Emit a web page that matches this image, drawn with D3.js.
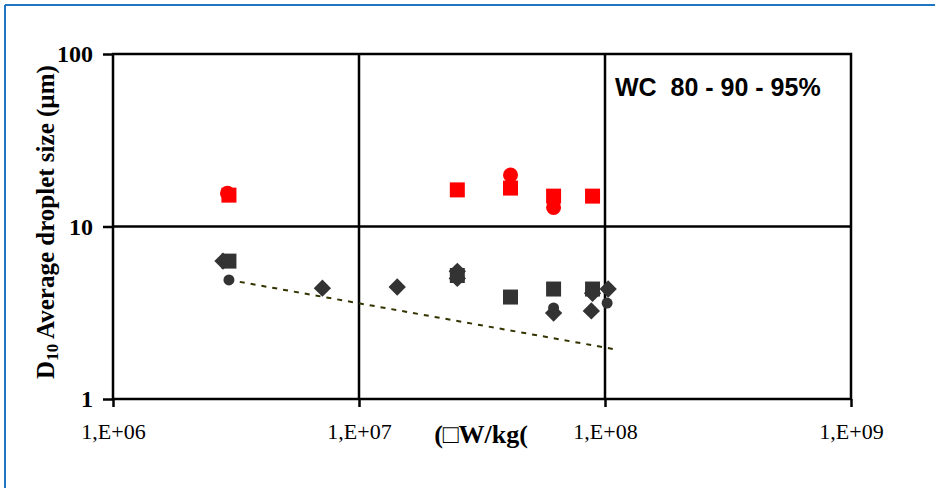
<!DOCTYPE html>
<html><head><meta charset="utf-8">
<script src="https://cdn.jsdelivr.net/npm/d3@7"></script>
<style>html,body{margin:0;padding:0;background:#fff;}</style>
</head><body>
<svg id="c" width="935" height="488"></svg>
<script>
// ---- data ----
const xTickValues = [1e6, 1e7, 1e8, 1e9];
const xTickLabels = ["1,E+06", "1,E+07", "1,E+08", "1,E+09"];
const yTickValues = [1, 10, 100];
const yTickLabels = ["1", "10", "100"];

const redSquareX = [2.96e6, 2.51e7, 4.13e7, 6.18e7, 8.9e7];
const redSquareY = [15.2, 16.3, 16.7, 15.0, 15.0];
const redCircleX = [2.92e6, 4.13e7, 6.18e7];
const redCircleY = [15.6, 19.9, 12.9];

const darkSquareX = [2.96e6, 2.51e7, 4.13e7, 6.18e7, 8.9e7];
const darkSquareY = [6.3, 5.2, 3.9, 4.34, 4.34];
const darkDiamondX = [2.8e6, 7.1e6, 1.43e7, 2.51e7, 2.51e7, 6.18e7, 8.8e7, 8.9e7, 1.03e8];
const darkDiamondY = [6.3, 4.39, 4.46, 5.5, 5.0, 3.15, 3.24, 4.1, 4.34];
const darkCircleX = [2.96e6, 6.18e7, 1.02e8];
const darkCircleY = [4.9, 3.37, 3.6];

const trendX = [2.96e6, 1.08e8];
const trendY = [4.9, 1.95];

const annotation = "WC  80 - 90 - 95%";
const yLabelMain = "D";
const yLabelSub = "10";
const yLabelRest = " Average droplet size (µm)";
const xLabel = "(\u25A1W/kg(";

// ---- layout ----
const svg = d3.select("#c");
const L = 113, R = 851, T = 54, B = 399;
const x = d3.scaleLog().domain([1e6, 1e9]).range([L, R]);
const y = d3.scaleLog().domain([1, 100]).range([B, T]);
const serif = "Liberation Serif, Times New Roman, serif";

// outer blue frame (top & left)
svg.append("line").attr("x1", 5).attr("y1", 5).attr("x2", 935).attr("y2", 5)
  .attr("stroke", "#1f77c4").attr("stroke-width", 2);
svg.append("line").attr("x1", 5).attr("y1", 5).attr("x2", 5).attr("y2", 488)
  .attr("stroke", "#1f77c4").attr("stroke-width", 2);

// gridlines
const g = svg.append("g");
g.selectAll(".vg").data([1e7, 1e8]).enter().append("line")
  .attr("x1", d => x(d)).attr("x2", d => x(d)).attr("y1", T).attr("y2", B)
  .attr("stroke", "#000").attr("stroke-width", 2.5);
g.selectAll(".hg").data([10]).enter().append("line")
  .attr("x1", L).attr("x2", R).attr("y1", d => y(d)).attr("y2", d => y(d))
  .attr("stroke", "#000").attr("stroke-width", 2.5);

// plot border
svg.append("rect").attr("x", L).attr("y", T).attr("width", R - L).attr("height", B - T)
  .attr("fill", "none").attr("stroke", "#000").attr("stroke-width", 2.5);

// axes
const xAxis = d3.axisBottom(x).tickValues(xTickValues)
  .tickFormat((d, i) => xTickLabels[i]).tickSize(8).tickPadding(16);
const xa = svg.append("g").attr("transform", `translate(0,${B})`).call(xAxis);
xa.select(".domain").remove();
xa.selectAll(".tick line").attr("stroke", "#000").attr("stroke-width", 2.5);
xa.selectAll("text").attr("font-family", serif)
  .attr("font-size", 22).attr("fill", "#000");

const yAxis = d3.axisLeft(y).tickValues(yTickValues)
  .tickFormat((d, i) => yTickLabels[i]).tickSize(10).tickPadding(10);
const ya = svg.append("g").attr("transform", `translate(${L},0)`).call(yAxis);
ya.select(".domain").remove();
ya.selectAll(".tick line").attr("stroke", "#000").attr("stroke-width", 2.5);
ya.selectAll("text").attr("font-family", serif)
  .attr("font-size", 24).attr("font-weight", "bold").attr("fill", "#000");

// trend line
svg.append("path")
  .datum(trendX.map((d, i) => [d, trendY[i]]))
  .attr("d", d3.line().x(d => x(d[0])).y(d => y(d[1])))
  .attr("fill", "none").attr("stroke", "#333300").attr("stroke-width", 2)
  .attr("stroke-dasharray", "5,6");

// markers
function pts(xs, ys) { return xs.map((d, i) => [d, ys[i]]); }
const red = "#ff0000", dark = "#333333";
const sqSym = d3.symbol().type(d3.symbolSquare).size(225);
const diaSym = d3.symbol().type(d3.symbolSquare).size(150);

svg.selectAll(".rs").data(pts(redSquareX, redSquareY)).enter().append("path")
  .attr("d", sqSym).attr("transform", d => `translate(${x(d[0])},${y(d[1])})`).attr("fill", red);
svg.selectAll(".rc").data(pts(redCircleX, redCircleY)).enter().append("circle")
  .attr("cx", d => x(d[0])).attr("cy", d => y(d[1])).attr("r", 7.5).attr("fill", red);

svg.selectAll(".dd").data(pts(darkDiamondX, darkDiamondY)).enter().append("path")
  .attr("d", diaSym).attr("transform", d => `translate(${x(d[0])},${y(d[1])}) rotate(45)`).attr("fill", dark);
svg.selectAll(".ds").data(pts(darkSquareX, darkSquareY)).enter().append("path")
  .attr("d", sqSym).attr("transform", d => `translate(${x(d[0])},${y(d[1])})`).attr("fill", dark);
svg.selectAll(".dc").data(pts(darkCircleX, darkCircleY)).enter().append("circle")
  .attr("cx", d => x(d[0])).attr("cy", d => y(d[1])).attr("r", 5.5).attr("fill", dark);

// annotation
svg.append("text").attr("x", 615).attr("y", 96).text(annotation)
  .attr("font-family", "Liberation Sans, Arial, sans-serif").attr("font-weight", "bold")
  .attr("font-size", 25).attr("fill", "#000")
  .style("white-space", "pre");

// y label
const yl = svg.append("text")
  .attr("transform", "translate(54,222) rotate(-90)")
  .attr("text-anchor", "middle")
  .attr("font-family", serif)
  .attr("font-weight", "bold").attr("font-size", 25).attr("fill", "#000");
yl.append("tspan").text(yLabelMain);
yl.append("tspan").text(yLabelSub).attr("font-size", 17).attr("dy", 4);
yl.append("tspan").text(yLabelRest).attr("dy", -4);

// x label
svg.append("text").attr("x", 481).attr("y", 443).attr("text-anchor", "middle")
  .attr("font-family", serif)
  .attr("font-weight", "bold").attr("font-size", 26).attr("fill", "#000")
  .text(xLabel);
</script>
</body></html>
